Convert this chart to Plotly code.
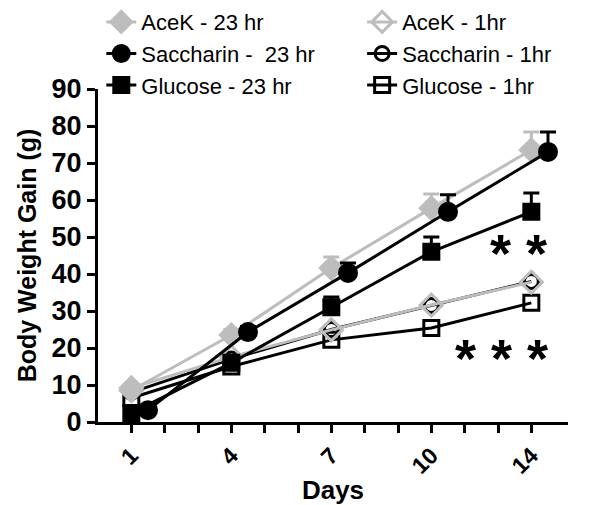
import plotly.graph_objects as go

# Days on the x axis (plotted at evenly spaced positions, day 14 sits at slot 13)
day_labels = ["1", "4", "7", "10", "14"]
day_pos = [1, 4, 7, 10, 13]

# Body weight gain (g), 23 hr access
acek_23 = [8.5, 23.5, 41.6, 57.8, 73.5]
acek_23_err = [1.0, 1.5, 3.0, 3.8, 4.9]
sacc_23 = [3.2, 24.3, 40.3, 56.8, 73.0]
sacc_23_err = [1.0, 1.5, 2.7, 4.6, 5.4]
gluc_23 = [2.4, 16.0, 31.0, 46.0, 56.8]
gluc_23_err = [1.0, 1.5, 2.8, 4.0, 5.1]

# Body weight gain (g), 1 hr access
acek_1 = [9.2, 17.6, 24.9, 31.6, 37.8]
sacc_1 = [8.0, 17.0, 25.0, 31.5, 38.0]
gluc_1 = [6.5, 15.0, 22.2, 25.4, 32.2]

FONT = "Liberation Sans"
GREY = "#bdbdbd"
SACC_SHIFT = 0.5  # GraphPad nudges the saccharin 23 hr points right

fig = go.Figure()


def add_series(name, xs, ys, color, symbol, size, legend, rank, err=None):
    kw = {}
    if err is not None:
        kw["error_y"] = dict(type="data", symmetric=False, array=err,
                             arrayminus=[0] * len(err), color=color,
                             thickness=3, width=8)
    fig.add_trace(go.Scatter(
        x=xs, y=ys, name=name, mode="lines+markers",
        line=dict(color=color, width=3),
        marker=dict(symbol=symbol, size=size, color=color,
                    line=dict(color=color, width=3)),
        legend=legend, legendrank=rank, legendgroup=name,
        cliponaxis=False, **kw))


# 1 hr series first so the 23 hr ones draw on top
add_series("Saccharin - 1hr", day_pos, sacc_1, "black", "circle-open", 14, "legend2", 2)
add_series("Glucose - 1hr", day_pos, gluc_1, "black", "square-open", 15, "legend2", 3)
add_series("AceK - 1hr", day_pos, acek_1, GREY, "diamond-open", 17, "legend2", 1)

add_series("AceK - 23 hr", day_pos, acek_23, GREY, "diamond", 17, "legend", 1, acek_23_err)
add_series("Saccharin -\u00a0 23 hr", [d + SACC_SHIFT for d in day_pos], sacc_23,
           "black", "circle", 17, "legend", 2, sacc_23_err)
add_series("Glucose - 23 hr", day_pos, gluc_23, "black", "square", 15, "legend", 3, gluc_23_err)

# significance marks
fig.add_annotation(x=12.62, y=45.6, text="* *", showarrow=False,
                   font=dict(family=FONT, size=54, color="black", weight="bold"))
fig.add_annotation(x=12.1, y=17.2, text="* * *", showarrow=False,
                   font=dict(family=FONT, size=54, color="black", weight="bold"))

tick_text = [day_labels[day_pos.index(p)] if p in day_pos else "" for p in range(1, 14)]

legend_style = dict(font=dict(family=FONT, size=22, color="black"),
                    bgcolor="rgba(0,0,0,0)", xanchor="left", yanchor="top",
                    tracegroupgap=0, itemwidth=30)

fig.update_layout(
    width=600, height=505,
    margin=dict(l=90, r=40, t=81, b=91, autoexpand=False),
    plot_bgcolor="white", paper_bgcolor="white",
    font=dict(family=FONT, color="black"),
    legend=dict(x=0.007, y=1.264, **legend_style),
    legend2=dict(x=0.562, y=1.264, **legend_style),
    xaxis=dict(range=[0, 14.1], showgrid=False, zeroline=False,
               showline=True, linecolor="black", linewidth=3,
               tickmode="array", tickvals=list(range(1, 14)), ticktext=tick_text,
               ticks="outside", ticklen=8, tickwidth=3, tickcolor="black",
               tickangle=-45,
               tickfont=dict(family=FONT, size=23, weight="bold"),
               title=dict(text="Days", standoff=3,
                          font=dict(family=FONT, size=26, weight="bold"))),
    yaxis=dict(range=[0, 90], dtick=10, showgrid=False, zeroline=False,
               showline=True, linecolor="black", linewidth=3,
               ticks="outside", ticklen=8, tickwidth=3, tickcolor="black",
               tickfont=dict(family=FONT, size=27, weight="bold"),
               title=dict(text="Body Weight Gain (g)", standoff=8,
                          font=dict(family=FONT, size=25, weight="bold"))),
)

fig.write_html("out.html")
